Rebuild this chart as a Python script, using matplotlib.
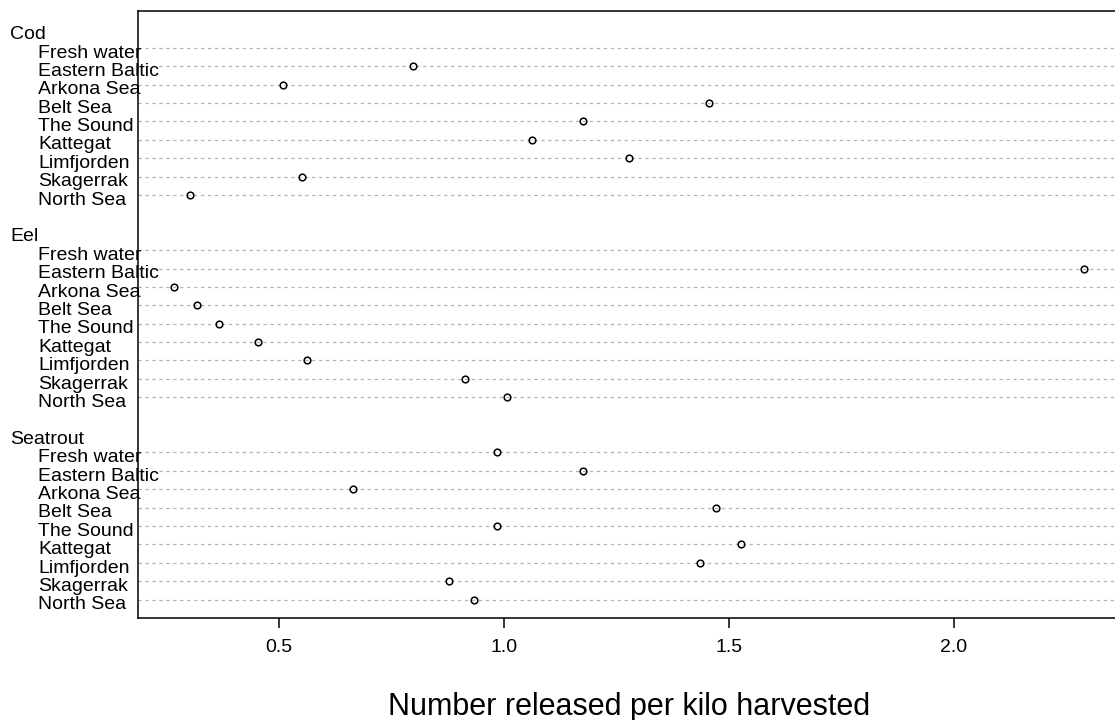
import numpy as np
import matplotlib.pyplot as plt

plt.rcParams['font.family'] = ['Liberation Sans', 'DejaVu Sans']
plt.rcParams['lines.scale_dashes'] = False

# Species groups and areas (top to bottom within each group)
species = ['Cod', 'Eel', 'Seatrout']
areas = ['Fresh water', 'Eastern Baltic', 'Arkona Sea', 'Belt Sea', 'The Sound',
         'Kattegat', 'Limfjorden', 'Skagerrak', 'North Sea']

# Number released per kilo harvested (nan = no value)
cod = [np.nan, 0.798, 0.509, 1.456, 1.176, 1.062, 1.278, 0.551, 0.302]
eel = [np.nan, 2.289, 0.267, 0.318, 0.367, 0.453, 0.562, 0.913, 1.007]
seatrout = [0.984, 1.176, 0.664, 1.471, 0.984, 1.527, 1.436, 0.878, 0.933]
xticks = [0.5, 1.0, 1.5, 2.0]

values = [cod, eel, seatrout]

W, H = 1115, 720
fig = plt.figure(figsize=(W / 100, H / 100), dpi=100)
left, right, top, bottom = 138, 1120, 11, 618
ax = fig.add_axes([left / W, 1 - bottom / H, (right - left) / W, (bottom - top) / H])

allv = np.array(values, dtype=float)
lo, hi = np.nanmin(allv), np.nanmax(allv)
pad = 0.04 * (hi - lo)
ax.set_xlim(lo - pad, hi + pad)
ax.set_ylim(0, 33)

n = len(areas)
for g, (name, vals) in enumerate(zip(species, values)):
    offset = (len(species) - 1 - g) * (n + 2)
    ys = [offset + n - k for k in range(n)]
    for y in ys:
        ax.axhline(y, color='#b4b4b4', lw=0.9, dashes=(2.4, 2.6), zorder=1)
    ax.plot(vals, ys, 'o', ls='none', ms=4.8, mfc='none', mec='black', mew=1.1, zorder=3)
    # labels, baseline a little below the row line
    for y, lab in zip(ys, areas):
        ax.annotate(lab, xy=(0, y), xycoords=('figure pixels', 'data'),
                    xytext=(38 * 0.72, -7), textcoords='offset points',
                    ha='left', va='baseline', fontsize=14, annotation_clip=False)
    ax.annotate(name, xy=(0, offset + n + 1), xycoords=('figure pixels', 'data'),
                xytext=(10 * 0.72, -7), textcoords='offset points',
                ha='left', va='baseline', fontsize=14, annotation_clip=False)

ax.set_yticks([])
ax.set_xticks(xticks)
ax.set_xticklabels(['%.1f' % t for t in xticks])
ax.tick_params(axis='x', length=7, width=1.1, pad=8, labelsize=14)
for s in ['top', 'left', 'bottom']:
    ax.spines[s].set_linewidth(1.1)
ax.spines['right'].set_visible(False)

fig.text((left + right) / 2 / W, 5 / H, 'Number released per kilo harvested',
         ha='center', va='baseline', fontsize=22)

fig.savefig('out.png', dpi=100)
